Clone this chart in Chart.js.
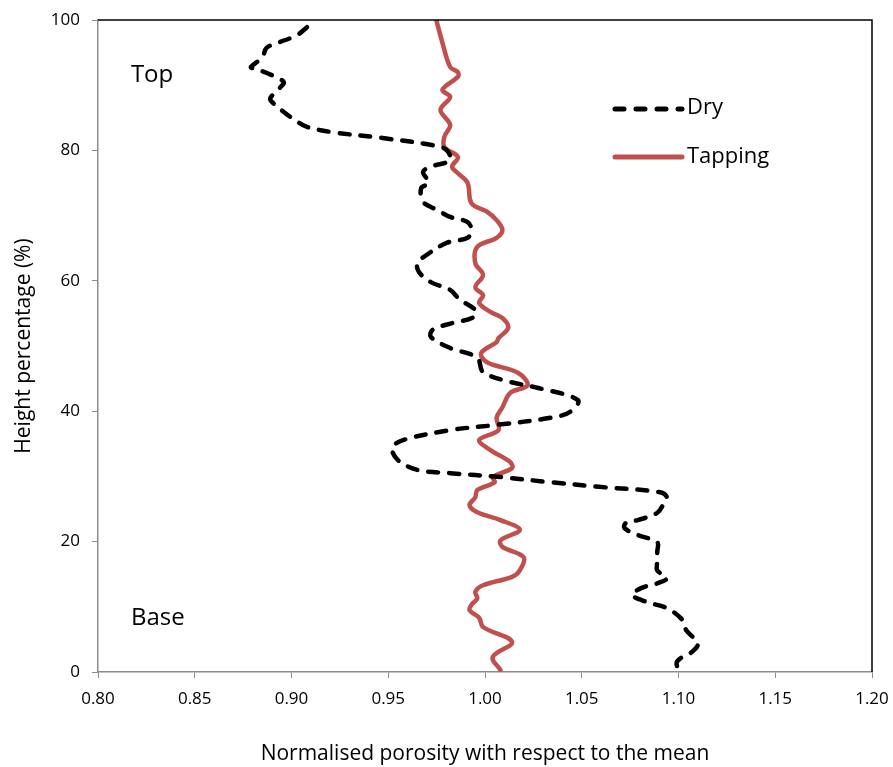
<!DOCTYPE html>
<html>
<head>
<meta charset="utf-8">
<script src="https://cdn.jsdelivr.net/npm/chart.js@4.4.1/dist/chart.umd.min.js"></script>
<style>
  html, body { margin: 0; padding: 0; background: #fff; }
  #wrap { width: 893px; height: 767px; }
</style>
</head>
<body>
<div id="wrap"><canvas id="chart" width="893" height="767"></canvas></div>
<script>
// Dry profile: porosity (x) against height (y)
const dryPorosity = [
  0.908, 0.903, 0.893, 0.887, 0.885, 0.879, 0.880, 0.887, 0.896, 0.894,
  0.889, 0.890, 0.896, 0.903, 0.908, 0.921, 0.947, 0.973, 0.980, 0.982,
  0.972, 0.968, 0.971, 0.967, 0.968, 0.975, 0.982, 0.991, 0.993, 0.991,
  0.980, 0.970, 0.965, 0.966, 0.972, 0.982, 0.987, 0.995, 0.994, 0.983,
  0.973, 0.972, 0.982, 0.996, 0.999, 1.013, 1.027, 1.048, 1.044, 1.034,
  1.006, 0.982, 0.958, 0.952, 0.955, 0.965, 0.982, 1.008, 1.034, 1.059,
  1.090, 1.094, 1.092, 1.089, 1.079, 1.073, 1.072, 1.079, 1.089, 1.089,
  1.089, 1.089, 1.094, 1.090, 1.081, 1.076, 1.084, 1.094, 1.102, 1.104,
  1.110, 1.107, 1.101, 1.099, 1.100
];
const dryHeight = [
  98.9, 97.7, 96.5, 95.7, 94.3, 92.8, 92.6, 91.9, 90.5, 89.6,
  88.0, 87.4, 85.9, 84.4, 83.6, 82.8, 81.9, 80.8, 80.1, 78.5,
  77.5, 76.7, 75.0, 74.2, 72.1, 70.9, 69.8, 69.0, 67.8, 66.6,
  65.8, 64.0, 62.7, 61.3, 59.8, 58.6, 57.1, 55.5, 54.4, 53.5,
  52.5, 51.4, 49.7, 48.2, 46.0, 44.5, 43.6, 41.7, 39.9, 39.0,
  37.9, 37.1, 35.6, 34.4, 32.5, 31.0, 30.5, 29.9, 29.1, 28.4,
  27.6, 26.8, 25.6, 24.4, 23.3, 22.9, 22.1, 21.0, 19.9, 18.4,
  16.9, 15.6, 14.4, 13.7, 12.9, 11.8, 10.7, 9.8, 8.0, 6.4,
  4.4, 3.1, 2.1, 1.4, 0.3
];

// Tapping profile
const tapPorosity = [
  0.975, 0.978, 0.982, 0.986, 0.986, 0.978, 0.982, 0.977, 0.982, 0.979,
  0.979, 0.986, 0.983, 0.986, 0.991, 0.993, 1.001, 1.006, 1.009, 1.006,
  0.996, 0.995, 0.999, 0.995, 0.999, 0.997, 1.003, 1.009, 1.012, 1.007,
  1.006, 0.998, 1.001, 1.017, 1.022, 1.013, 1.009, 1.006, 1.007, 0.997,
  1.003, 1.013, 1.014, 1.004, 1.005, 0.996, 0.995, 0.992, 0.996, 1.008,
  1.018, 1.008, 1.009, 1.020, 1.018, 1.014, 0.999, 0.995, 0.996, 0.993,
  0.992, 0.997, 0.999, 1.014, 1.004, 1.008
];
const tapHeight = [
  99.8, 96.5, 92.8, 92.0, 91.3, 89.3, 88.2, 86.2, 83.9, 82.1,
  80.5, 79.0, 77.5, 76.5, 75.0, 71.9, 70.6, 69.3, 67.8, 66.6,
  65.2, 62.7, 60.9, 59.0, 57.8, 56.6, 55.2, 54.3, 52.8, 51.2,
  50.6, 48.9, 47.5, 45.9, 44.0, 42.8, 40.6, 39.0, 37.1, 35.6,
  34.0, 32.2, 31.3, 29.9, 29.1, 27.9, 26.8, 25.6, 24.5, 23.3,
  21.8, 20.2, 19.2, 17.6, 15.6, 14.6, 13.3, 12.3, 11.3, 10.3,
  9.5, 8.3, 6.9, 4.6, 2.3, 0.3
];

const xTicks = [0.80, 0.85, 0.90, 0.95, 1.00, 1.05, 1.10, 1.15, 1.20];
const yTicks = [0, 20, 40, 60, 80, 100];

const FONT = "'Open Sans', Lato, sans-serif";
const RED = "#C0504D";
const AXIS = "#8c8c8c";

const toPoints = (xs, ys) => xs.map((x, i) => ({ x: x, y: ys[i] }));

// frame on top/right, legend and Top/Base labels
const extras = {
  id: "extras",
  afterDatasetsDraw(chart) {
    const { ctx, chartArea: a, scales } = chart;
    ctx.save();
    ctx.strokeStyle = "#000";
    ctx.lineWidth = 1.5;
    ctx.beginPath();
    ctx.moveTo(a.left, a.top);
    ctx.lineTo(a.right, a.top);
    ctx.lineTo(a.right, a.bottom);
    ctx.stroke();

    ctx.fillStyle = "#000";
    ctx.font = "24px " + FONT;
    ctx.textBaseline = "middle";
    ctx.textAlign = "left";
    ctx.fillText("Top", scales.x.getPixelForValue(0.817), scales.y.getPixelForValue(91.6));
    ctx.fillText("Base", scales.x.getPixelForValue(0.817), scales.y.getPixelForValue(8.2));

    // legend
    const lx = 613, lx2 = 682;
    ctx.lineCap = "round";
    ctx.lineWidth = 5;
    ctx.strokeStyle = "#000";
    ctx.setLineDash([9, 12]);
    ctx.beginPath();
    ctx.moveTo(lx + 2, 109);
    ctx.lineTo(lx2, 109);
    ctx.stroke();
    ctx.setLineDash([]);
    ctx.strokeStyle = RED;
    ctx.beginPath();
    ctx.moveTo(lx + 2, 157);
    ctx.lineTo(lx2, 157);
    ctx.stroke();
    ctx.font = "22px " + FONT;
    ctx.fillText("Dry", 687, 108);
    ctx.fillText("Tapping", 687, 157);
    ctx.restore();
  }
};

new Chart(document.getElementById("chart"), {
  type: "scatter",
  data: {
    datasets: [
      {
        label: "Dry",
        data: toPoints(dryPorosity, dryHeight),
        showLine: true,
        borderColor: "#000",
        borderWidth: 4.5,
        borderDash: [10, 11],
        borderCapStyle: "round",
        pointRadius: 0,
        tension: 0.35,
      },
      {
        label: "Tapping",
        data: toPoints(tapPorosity, tapHeight),
        showLine: true,
        borderColor: RED,
        borderWidth: 4.5,
        borderCapStyle: "round",
        borderJoinStyle: "round",
        pointRadius: 0,
        tension: 0.35,
      },
    ],
  },
  options: {
    responsive: false,
    animation: false,
    layout: { padding: { top: 20, right: 21, left: 0, bottom: 0 } },
    plugins: { legend: { display: false }, tooltip: { enabled: false } },
    scales: {
      x: {
        type: "linear",
        min: 0.8,
        max: 1.2,
        afterBuildTicks: (s) => { s.ticks = xTicks.map((v) => ({ value: v })); },
        afterFit: (s) => { s.height = 95; s.paddingRight = 0; s.paddingLeft = 0; },
        ticks: {
          color: "#000",
          font: { family: FONT, size: 17 },
          padding: 11,
          callback: (v) => v.toFixed(2),
        },
        grid: { display: true, drawOnChartArea: false, color: AXIS, tickLength: 6 },
        border: { color: AXIS, width: 1.5 },
        title: {
          display: true,
          text: "Normalised porosity with respect to the mean",
          color: "#000",
          font: { family: FONT, size: 21 },
          padding: { top: 30, bottom: 0 },
        },
      },
      y: {
        type: "linear",
        min: 0,
        max: 100,
        afterBuildTicks: (s) => { s.ticks = yTicks.map((v) => ({ value: v })); },
        afterFit: (s) => { s.width = 98; s.paddingTop = 0; s.paddingBottom = 0; },
        ticks: {
          color: "#000",
          font: { family: FONT, size: 17 },
          padding: 12,
        },
        grid: { display: true, drawOnChartArea: false, color: AXIS, tickLength: 6 },
        border: { color: AXIS, width: 1.5 },
        title: {
          display: true,
          text: "Height percentage (%)",
          color: "#000",
          font: { family: FONT, size: 21 },
          padding: { bottom: 0, top: 11 },
        },
      },
    },
  },
  plugins: [extras],
});
</script>
</body>
</html>
